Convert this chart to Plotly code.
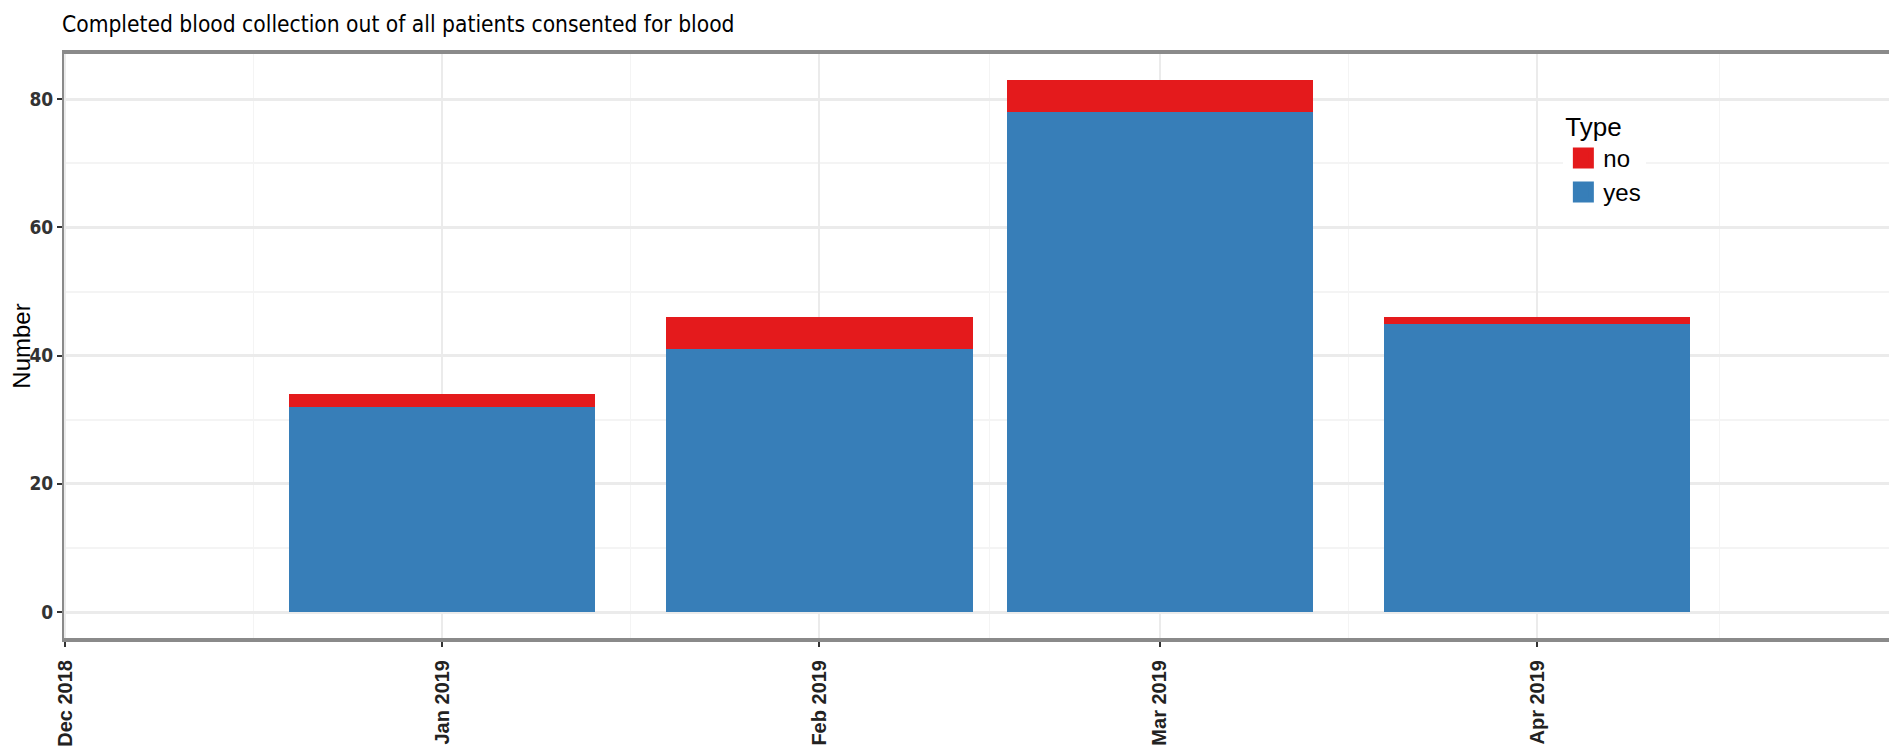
import plotly.graph_objects as go
import pandas as pd

# ---- data ----
months = ["2019-01-01", "2019-02-01", "2019-03-01", "2019-04-01"]
yes_counts = [32, 41, 78, 45]
no_counts = [2, 5, 5, 1]
tick_dates = ["2018-12-01", "2019-01-01", "2019-02-01", "2019-03-01", "2019-04-01"]
tick_labels = ["Dec 2018", "Jan 2019", "Feb 2019", "Mar 2019", "Apr 2019"]
series_names = ["no", "yes"]
series_colors = {"no": "#E41A1C", "yes": "#377EB8"}

# ---- derived ----
m = pd.to_datetime(months)
spacing_days = min((m[1:] - m[:-1]).days)
bar_width_ms = 0.9 * spacing_days * 86400000

all_months = pd.to_datetime(tick_dates + ["2019-05-01"])
minor_vals = [(all_months[i] + (all_months[i + 1] - all_months[i]) / 2).strftime("%Y-%m-%d %H:%M")
              for i in range(len(all_months) - 1)]

# page has an 8px body margin: compensate so the panel lands where the reference has it
OFF = 8
W, H = 1897 - OFF, 752 - OFF
L, R, T, B = 64 - OFF, 1, 54 - OFF, 114
PW, PH = W - L - R, H - T - B

fig = go.Figure()
fig.add_trace(go.Bar(x=months, y=yes_counts, width=bar_width_ms, name="yes",
                     marker=dict(color=series_colors["yes"], line=dict(width=0)),
                     showlegend=False))
fig.add_trace(go.Bar(x=months, y=no_counts, width=bar_width_ms, name="no",
                     marker=dict(color=series_colors["no"], line=dict(width=0)),
                     showlegend=False))
# legend keys
for nm in series_names:
    fig.add_trace(go.Scatter(x=[None], y=[None], mode="markers", name=nm,
                             marker=dict(symbol="square", size=16, color=series_colors[nm],
                                         line=dict(width=5, color=series_colors[nm]))))

narrow = "Liberation Sans Narrow, DejaVu Sans Condensed, Liberation Sans, Arial, sans-serif"
regular = "Liberation Sans, Arial, sans-serif"

fig.update_layout(
    width=W, height=H,
    margin=dict(l=L, r=R, t=T, b=B),
    barmode="stack", bargap=0,
    plot_bgcolor="white", paper_bgcolor="white",
    title=dict(text="Completed blood collection out of all patients consented for blood",
               x=(L - 2) / W, xanchor="left", y=1 - (24 - OFF) / H, yanchor="middle",
               font=dict(family=narrow, size=22.6, color="black")),
    legend=dict(title=dict(text="Type", font=dict(family=regular, size=26, color="black")),
                font=dict(family=regular, size=24, color="black"),
                traceorder="normal",
                x=(1565 - OFF - L) / PW, xanchor="left",
                y=(H - B - (102 - OFF)) / PH, yanchor="top",
                bgcolor="white", itemwidth=30),
    xaxis=dict(
        type="date",
        range=["2018-11-30 22:00", "2019-04-30 08:00"],
        tickmode="array", tickvals=tick_dates, ticktext=tick_labels,
        tickangle=-90,
        tickfont=dict(family=regular, size=20, color="#222", weight="bold"),
        ticks="outside", ticklen=5, tickwidth=1.5, tickcolor="#333",
        ticklabelstandoff=5,
        showgrid=True, gridcolor="#EBEBEB", gridwidth=1.5,
        minor=dict(tickmode="array", tickvals=minor_vals, showgrid=True,
                   gridcolor="#F4F4F4", gridwidth=1, ticks=""),
        showline=True, linecolor="#8a8a8a", linewidth=4, mirror=True,
        zeroline=False,
    ),
    yaxis=dict(
        range=[-4.05, 87.05],
        tickmode="array", tickvals=[0, 20, 40, 60, 80],
        tickfont=dict(family=narrow, size=19, color="#333", weight="bold"),
        ticks="outside", ticklen=5, tickwidth=2, tickcolor="#333",
        showgrid=True, gridcolor="#EBEBEB", gridwidth=2.5,
        minor=dict(dtick=10, tick0=0, showgrid=True, gridcolor="#F4F4F4", gridwidth=1.5, ticks=""),
        showline=True, linecolor="#8a8a8a", linewidth=2, mirror=True,
        zeroline=False,
        title=dict(text="Number", font=dict(family=regular, size=24, color="black"), standoff=4),
    ),
)

fig.write_html("out.html")
